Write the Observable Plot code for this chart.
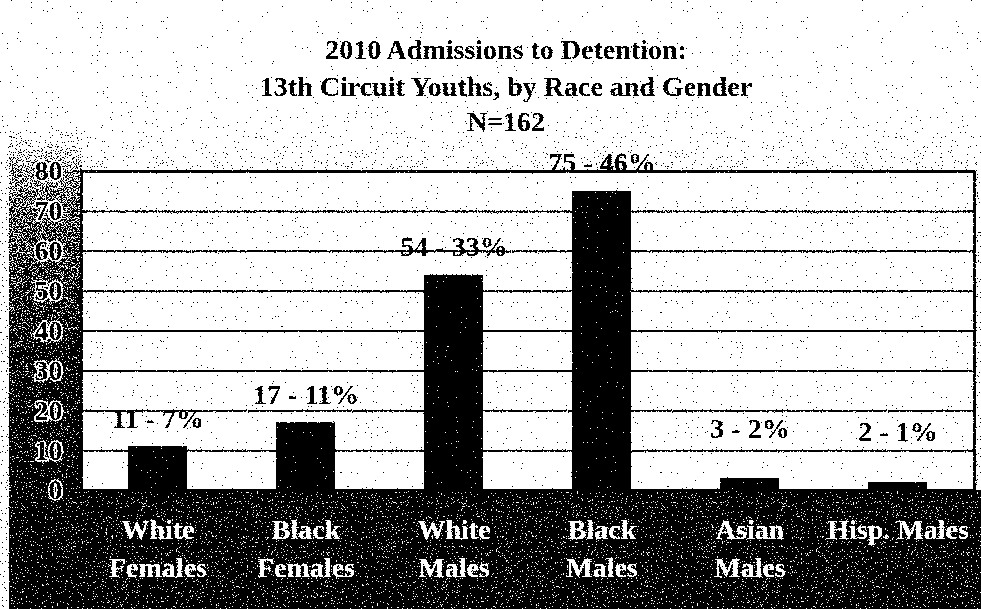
<!DOCTYPE html>
<html>
<head>
<meta charset="utf-8">
<script src="https://cdn.jsdelivr.net/npm/d3@7"></script>
<script src="https://cdn.jsdelivr.net/npm/@observablehq/plot@0.6"></script>
<style>
  html, body { margin: 0; padding: 0; background: #fff; }
  #chart { width: 981px; height: 609px; overflow: hidden; }
</style>
</head>
<body>
<div id="chart"></div>
<script>
// Admissions to detention in 2010, 13th Circuit youths
const groups = ["White\nFemales", "Black\nFemales", "White\nMales", "Black\nMales", "Asian\nMales", "Hisp. Males"];
const admissions = [11, 17, 54, 75, 3, 2];
const sharePct = [7, 11, 33, 46, 2, 1];
const yTicks = [0, 10, 20, 30, 40, 50, 60, 70, 80];
const titleLines = ["2010 Admissions to Detention:", "13th Circuit Youths, by Race and Gender", "N=162"];

const rows = groups.map((group, i) => ({
  group,
  count: admissions[i],
  label: `${admissions[i]} - ${sharePct[i]}%`
}));

const serif = "'Liberation Serif', 'Times New Roman', serif";
const titleOffsets = [-121, -84, -49];

const chart = Plot.plot({
  width: 981,
  height: 609,
  marginTop: 171,
  marginBottom: 119,
  marginLeft: 81,
  marginRight: 7,
  style: { fontFamily: serif, fontWeight: "bold", background: "transparent", overflow: "visible" },
  x: { domain: groups, paddingInner: 0.6, paddingOuter: 0.3, axis: null },
  y: { domain: [0, 80], axis: null, label: null },
  marks: [
    Plot.frame({ fill: "#f3f3f3" }),
    Plot.gridY(yTicks, { stroke: "#1c1c1c", strokeOpacity: 1, strokeWidth: 2 }),
    Plot.barY(rows, { x: "group", y: "count", fill: "#101010" }),
    Plot.frame({ stroke: "black", strokeWidth: 2.5 }),
    // short tick marks left of the frame
    Plot.axisY(yTicks, { tickSize: 7, tickFormat: () => "", label: null, stroke: "black", strokeWidth: 1.5 }),
    // tick values, black with a white halo
    Plot.text(yTicks, {
      y: d => d, text: d => String(d), frameAnchor: "left", dx: -19, textAnchor: "end",
      fontSize: 28, fill: "black", stroke: "white", strokeWidth: 3, paintOrder: "stroke"
    }),
    // value labels above the bars
    Plot.text(rows.filter(d => d.count >= 10), {
      x: "group", y: "count", text: "label", dy: -28, fontSize: 28, fill: "black"
    }),
    Plot.text(rows.filter(d => d.count < 10), {
      x: "group", y: "count", text: "label", dy: -50, fontSize: 28, fill: "black"
    }),
    // category names in the dark band under the chart
    Plot.text(rows, {
      x: "group", text: "group", frameAnchor: "bottom", lineAnchor: "top",
      dy: 21, lineHeight: 1.36, fontSize: 28, fill: "white"
    }),
    // three-line heading
    ...titleLines.map((line, i) => Plot.text([line], {
      text: d => d, frameAnchor: "top", lineAnchor: "middle", dx: -22, dy: titleOffsets[i],
      fontSize: 28, fill: "black"
    }))
  ]
});

// Scanned-paper look: shaded backdrop plus a grain threshold
const svg = d3.select(chart);
const defs = svg.insert("defs", ":first-child");

const sky = defs.append("linearGradient").attr("id", "sky")
  .attr("gradientUnits", "userSpaceOnUse").attr("x1", 0).attr("y1", 0).attr("x2", 0).attr("y2", 609);
[[0, "#ffffff"], [12, "#fcfcfc"], [100, "#f6f6f6"], [130, "#eaeaea"], [160, "#dcdcdc"], [175, "#d6d6d6"], [609, "#d6d6d6"]]
  .forEach(([y, c]) => sky.append("stop").attr("offset", y / 609).attr("stop-color", c));

const side = defs.append("linearGradient").attr("id", "side")
  .attr("gradientUnits", "userSpaceOnUse").attr("x1", 0).attr("y1", 130).attr("x2", 0).attr("y2", 491);
[[130, "#d8d8d8"], [170, "#8c8c8c"], [210, "#767676"], [260, "#646464"], [310, "#545454"], [360, "#464646"], [420, "#3e3e3e"], [491, "#3a3a3a"]]
  .forEach(([y, c]) => side.append("stop").attr("offset", (y - 130) / 361).attr("stop-color", c));

const f = defs.append("filter").attr("id", "scan")
  .attr("filterUnits", "userSpaceOnUse").attr("x", 0).attr("y", 0).attr("width", 981).attr("height", 609)
  .attr("color-interpolation-filters", "sRGB");
f.append("feTurbulence").attr("type", "fractalNoise").attr("baseFrequency", 0.8)
  .attr("numOctaves", 2).attr("seed", 7).attr("result", "noise");
f.append("feColorMatrix").attr("in", "noise").attr("type", "matrix")
  .attr("values", "1 0 0 0 0  1 0 0 0 0  1 0 0 0 0  0 0 0 0 1").attr("result", "grain");
f.append("feComposite").attr("in", "SourceGraphic").attr("in2", "grain").attr("operator", "arithmetic")
  .attr("k1", 0).attr("k2", 1).attr("k3", 1.65).attr("k4", -0.825).attr("result", "mix");
const ct = f.append("feComponentTransfer").attr("in", "mix");
["feFuncR", "feFuncG", "feFuncB"].forEach(fn => ct.append(fn).attr("type", "discrete").attr("tableValues", "0 1"));

const layer = svg.append("g").attr("filter", "url(#scan)");
layer.append("rect").attr("width", 981).attr("height", 609).attr("fill", "url(#sky)");
layer.append("rect").attr("x", 9).attr("y", 130).attr("width", 73).attr("height", 361).attr("fill", "url(#side)");
layer.append("rect").attr("x", 9).attr("y", 490).attr("width", 972).attr("height", 119).attr("fill", "#363636");

// move the chart content above the backdrop, inside the grain layer
Array.from(chart.childNodes).forEach(node => {
  if (node !== defs.node() && node !== layer.node() && node.nodeName !== "style") layer.node().appendChild(node);
});

document.getElementById("chart").appendChild(chart);
</script>
</body>
</html>
